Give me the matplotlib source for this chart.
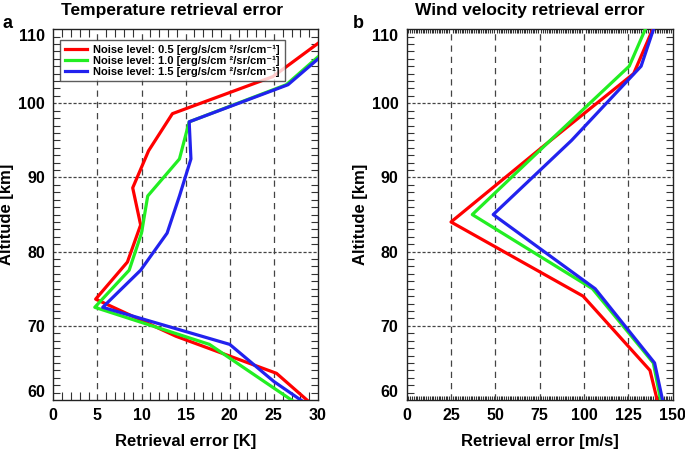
import numpy as np
import matplotlib.pyplot as plt
from matplotlib import font_manager
from matplotlib.ticker import MultipleLocator

plt.rcParams['font.family'] = ['Liberation Sans', 'DejaVu Sans']
plt.rcParams['font.weight'] = 'bold'

# --- Temperature retrieval error (panel a) ---
t_alt_red = [58.6, 63.6, 68.6, 73.6, 78.6, 83.6, 88.6, 93.6, 98.6, 103.6, 108.6]
t_err_red = [30.1, 25.3, 13.9, 4.8, 8.4, 9.9, 9.0, 10.8, 13.5, 24.9, 30.6]
t_alt_gb = [57.5, 62.5, 67.5, 72.5, 77.5, 82.5, 87.5, 92.5, 97.5, 102.5, 107.5]
t_err_green = [30.1, 23.9, 17.7, 4.7, 8.6, 10.0, 10.7, 14.3, 15.4, 26.4, 31.2]
t_err_blue = [31.1, 25.0, 20.0, 5.6, 9.9, 12.9, 14.3, 15.6, 15.4, 26.6, 31.5]

# --- Wind velocity retrieval error (panel b) ---
w_alt_red = [54, 64, 74, 84, 94, 104, 114]
w_err_red = [147.4, 137.2, 99.5, 25.0, 76.0, 128.0, 146.0]
w_alt_gb = [55, 65, 75, 85, 95, 105, 115]
w_err_green = [147.3, 139.1, 104.8, 37.0, 81.0, 125.5, 143.7]
w_err_blue = [148.8, 139.8, 106.3, 48.8, 93.0, 132.2, 146.2]

labels = ['Noise level: 0.5 [erg/s/cm \u00b2/sr/cm\u207b\u00b9]',
          'Noise level: 1.0 [erg/s/cm \u00b2/sr/cm\u207b\u00b9]',
          'Noise level: 1.5 [erg/s/cm \u00b2/sr/cm\u207b\u00b9]']
colors = ['#ff0000', '#22ee22', '#2222ee']

# a narrow face for the legend if one is around
installed = {f.name for f in font_manager.fontManager.ttflist}
if 'Liberation Sans Narrow' in installed:
    leg_family, leg_size = ['Liberation Sans Narrow', 'DejaVu Sans'], 9.2
else:
    leg_family, leg_size = ['Liberation Sans', 'DejaVu Sans'], 8.0

fig = plt.figure(figsize=(6.85, 4.51), dpi=100)
ax1 = fig.add_axes([0.0778, 0.113, 0.3864, 0.8225])
ax2 = fig.add_axes([0.5937, 0.113, 0.3883, 0.8225])


def style_axis(ax, xmax, xmajor, xminor, minor_len_x, label_x):
    ax.set_ylim(60, 110)
    ax.set_xlim(0, xmax)
    ax.xaxis.set_major_locator(MultipleLocator(xmajor))
    ax.xaxis.set_minor_locator(MultipleLocator(xminor))
    ax.yaxis.set_major_locator(MultipleLocator(10))
    ax.yaxis.set_minor_locator(MultipleLocator(1))
    ax.tick_params(which='both', direction='in', top=True, right=True,
                   labelsize=11.5, width=0.8, colors='#333333', labelcolor='black')
    ax.tick_params(which='major', length=0, pad=6)
    ax.tick_params(which='minor', axis='y', length=5)
    ax.tick_params(which='minor', axis='x', length=minor_len_x)
    for lab in ax.get_xticklabels() + ax.get_yticklabels():
        lab.set_fontweight('bold')
    for sp in ax.spines.values():
        sp.set_linewidth(1.0)
        sp.set_color('#222222')
    for xv in np.arange(xmajor, xmax, xmajor):
        ax.axvline(xv, color='#444444', lw=0.9, ls=(0, (5, 4)), zorder=1)
    for yv in [70, 80, 90, 100]:
        ax.axhline(yv, color='#444444', lw=0.9, ls=(0, (2.5, 1.5)), zorder=1)
    ax.set_ylabel('Altitude [km]', fontsize=12, fontweight='bold')
    ax.yaxis.set_label_coords(label_x, 0.5)
    ax.set_axisbelow(True)


style_axis(ax1, 30, 5, 1, 6, -0.147)
style_axis(ax2, 150, 25, 1, 3, -0.144)

lw = 2.3
ax1.plot(t_err_red, t_alt_red, color=colors[0], lw=lw, label=labels[0], zorder=3)
ax1.plot(t_err_green, t_alt_gb, color=colors[1], lw=lw, label=labels[1], zorder=3)
ax1.plot(t_err_blue, t_alt_gb, color=colors[2], lw=lw, label=labels[2], zorder=3)

ax2.plot(w_err_red, w_alt_red, color=colors[0], lw=lw, zorder=3)
ax2.plot(w_err_green, w_alt_gb, color=colors[1], lw=lw, zorder=3)
ax2.plot(w_err_blue, w_alt_gb, color=colors[2], lw=lw, zorder=3)

ax1.set_xlabel('Retrieval error [K]', fontsize=12, fontweight='bold', labelpad=8)
ax2.set_xlabel('Retrieval error [m/s]', fontsize=12, fontweight='bold', labelpad=8)

ax1.set_title('Temperature retrieval error', fontsize=12.5, fontweight='bold',
              x=0.448, pad=10)
ax2.set_title('Wind velocity retrieval error', fontsize=12.5, fontweight='bold',
              x=0.4635, pad=10)

leg = ax1.legend(loc='upper left', bbox_to_anchor=(0.025, 0.97),
                 prop={'family': leg_family, 'size': leg_size, 'weight': 'bold'},
                 frameon=True, fancybox=False, edgecolor='#333333',
                 handlelength=2.0, handletextpad=0.6, labelspacing=0.05,
                 borderpad=0.42, borderaxespad=0.0)
leg.get_frame().set_linewidth(1.0)

# panel letters
fig.text(0.004, 0.947, 'a', fontsize=13, fontweight='bold', va='center')
fig.text(0.515, 0.949, 'b', fontsize=13, fontweight='bold', va='center')

# keep the end labels inside the box like the original
fig.canvas.draw()
for ax in (ax1, ax2):
    for lab in ax.get_yticklabels():
        txt = lab.get_text()
        if txt == '110':
            lab.set_va('top')
        elif txt == '60':
            lab.set_va('bottom')

fig.savefig('out.png', dpi=100)
